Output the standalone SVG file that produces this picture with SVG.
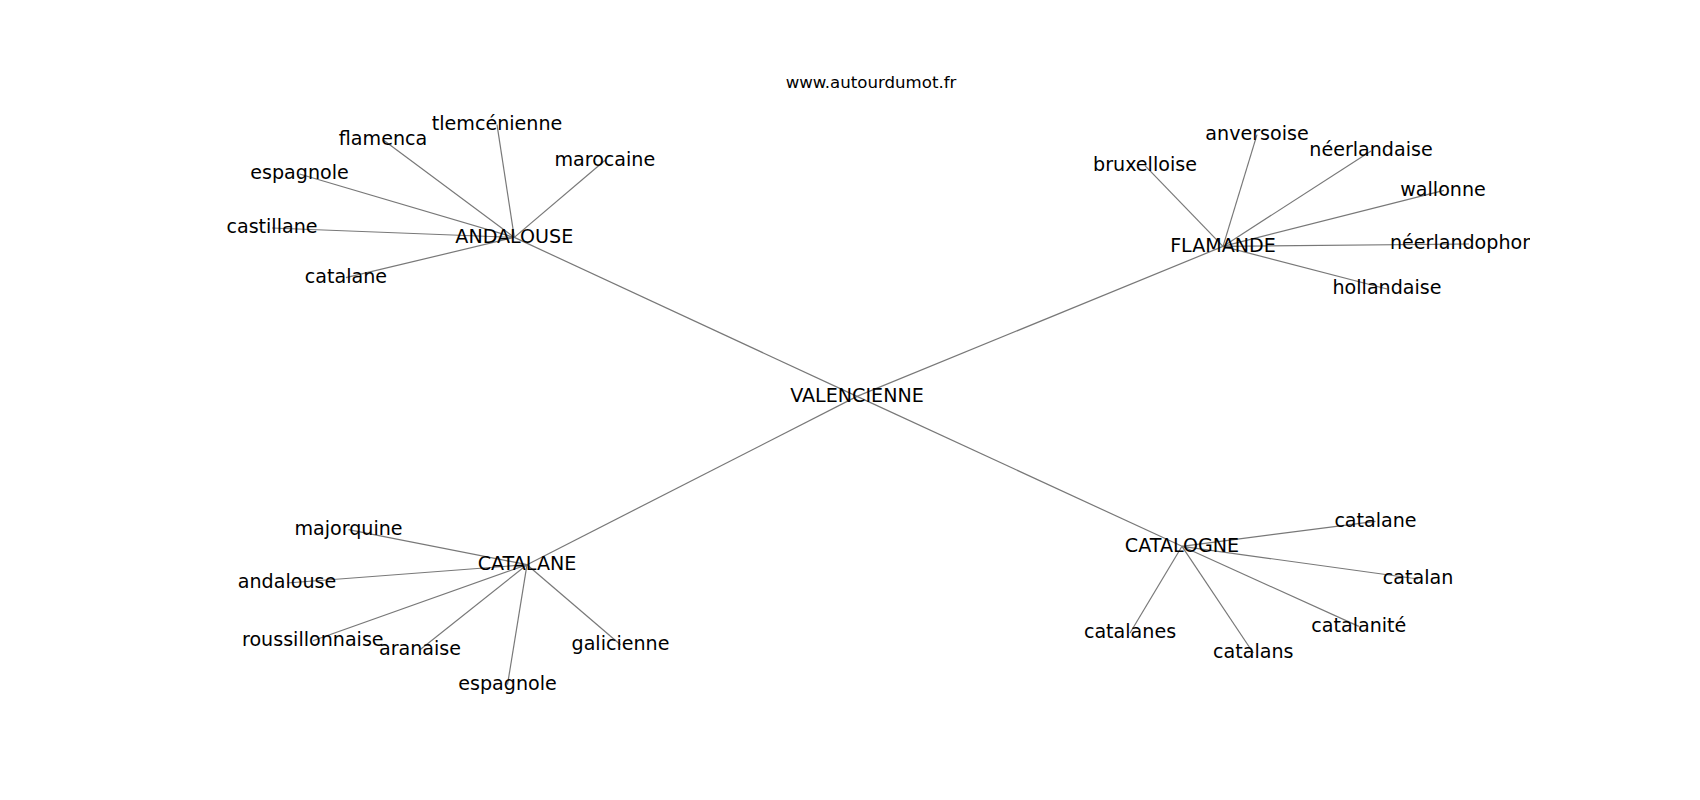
<svg xmlns="http://www.w3.org/2000/svg" width="1700" height="800" viewBox="0 0 1700 800">
<style>
text{font-family:"DejaVu Sans","Liberation Sans",sans-serif;font-size:19.1px;fill:#000;text-anchor:middle}
.title{font-size:16.6px}
#edges line{stroke:#787878;stroke-width:1.2}
</style>
<defs>
<clipPath id="axes"><rect x="212.5" y="96" width="1317.5" height="616"/></clipPath>
</defs>
<rect width="1700" height="800" fill="#fff"/>
<text class="title" x="871" y="87.5">www.autourdumot.fr</text>
<g id="edges">
<line x1="857" y1="396.4" x2="514.3" y2="237.4"/>
<line x1="857" y1="396.4" x2="1223" y2="246.4"/>
<line x1="857" y1="396.4" x2="527" y2="564.7"/>
<line x1="857" y1="396.4" x2="1182" y2="546.3"/>
<line x1="514.3" y1="237.4" x2="383" y2="139.7"/>
<line x1="514.3" y1="237.4" x2="497" y2="124.7"/>
<line x1="514.3" y1="237.4" x2="604.8" y2="160.5"/>
<line x1="514.3" y1="237.4" x2="299.5" y2="174"/>
<line x1="514.3" y1="237.4" x2="272" y2="228"/>
<line x1="514.3" y1="237.4" x2="345.9" y2="277.7"/>
<line x1="1223" y1="246.4" x2="1145" y2="165.7"/>
<line x1="1223" y1="246.4" x2="1257" y2="134.7"/>
<line x1="1223" y1="246.4" x2="1371" y2="151"/>
<line x1="1223" y1="246.4" x2="1444" y2="190.4"/>
<line x1="1223" y1="246.4" x2="1469" y2="244"/>
<line x1="1223" y1="246.4" x2="1387" y2="289"/>
<line x1="527" y1="564.7" x2="348.5" y2="529.7"/>
<line x1="527" y1="564.7" x2="287" y2="583"/>
<line x1="527" y1="564.7" x2="312.8" y2="640.7"/>
<line x1="527" y1="564.7" x2="420" y2="649.7"/>
<line x1="527" y1="564.7" x2="507.5" y2="684.7"/>
<line x1="527" y1="564.7" x2="620.5" y2="644.7"/>
<line x1="1182" y1="546.3" x2="1375.5" y2="521.3"/>
<line x1="1182" y1="546.3" x2="1418" y2="579"/>
<line x1="1182" y1="546.3" x2="1358.8" y2="626.4"/>
<line x1="1182" y1="546.3" x2="1130" y2="633"/>
<line x1="1182" y1="546.3" x2="1253.3" y2="653"/>
</g>
<g id="n-valencienne"><text x="857" y="401.7">VALENCIENNE</text></g>
<g id="n-andalouse"><text x="514.3" y="242.7">ANDALOUSE</text></g>
<g id="n-flamande"><text x="1223" y="251.7">FLAMANDE</text></g>
<g id="n-catalane"><text x="527" y="570">CATALANE</text></g>
<g id="n-catalogne"><text x="1182" y="551.6">CATALOGNE</text></g>
<g id="n-flamenca"><text x="383" y="145">flamenca</text></g>
<g id="n-tlemcenienne"><text x="497" y="130">tlemcénienne</text></g>
<g id="n-marocaine"><text x="604.8" y="165.8">marocaine</text></g>
<g id="n-espagnole-a"><text x="299.5" y="179.3">espagnole</text></g>
<g id="n-castillane"><text x="272" y="233.3">castillane</text></g>
<g id="n-catalane-a"><text x="345.9" y="283">catalane</text></g>
<g id="n-bruxelloise"><text x="1145" y="171">bruxelloise</text></g>
<g id="n-anversoise"><text x="1257" y="140">anversoise</text></g>
<g id="n-neerlandaise"><text x="1371" y="156.3">néerlandaise</text></g>
<g id="n-wallonne"><text x="1443" y="195.7">wallonne</text></g>
<g id="n-neerlandophone" clip-path="url(#axes)"><text x="1468" y="249.3">néerlandophone</text></g>
<g id="n-hollandaise"><text x="1387" y="294.3">hollandaise</text></g>
<g id="n-majorquine"><text x="348.5" y="535">majorquine</text></g>
<g id="n-andalouse-c"><text x="287" y="588.3">andalouse</text></g>
<g id="n-roussillonnaise"><text x="312.8" y="646">roussillonnaise</text></g>
<g id="n-aranaise"><text x="420" y="655">aranaise</text></g>
<g id="n-espagnole-c"><text x="507.5" y="690">espagnole</text></g>
<g id="n-galicienne"><text x="620.5" y="650">galicienne</text></g>
<g id="n-catalane-g"><text x="1375.5" y="526.6">catalane</text></g>
<g id="n-catalan"><text x="1418" y="584.3">catalan</text></g>
<g id="n-catalanite"><text x="1358.8" y="631.7">catalanité</text></g>
<g id="n-catalanes"><text x="1130" y="638.3">catalanes</text></g>
<g id="n-catalans"><text x="1253.3" y="658.3">catalans</text></g>
</svg>
